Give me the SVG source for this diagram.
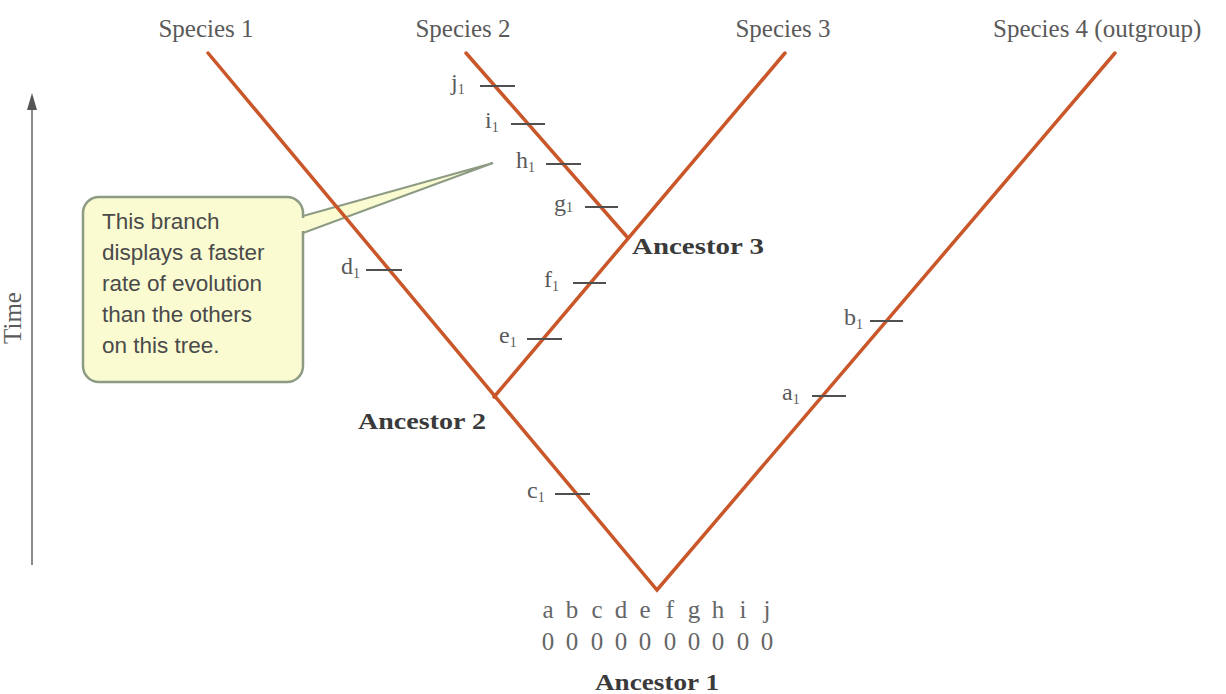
<svg xmlns="http://www.w3.org/2000/svg" width="1226" height="694" viewBox="0 0 1226 694">
<style>
.sp{font-family:"Liberation Serif",serif;font-size:25px;fill:#5a5a5a}
.lb{font-family:"Liberation Serif",serif;font-size:24px;fill:#5a5a5a}
.sub{font-size:14px}
.anc{font-family:"Liberation Serif",serif;font-size:23px;font-weight:bold;fill:#3a3a3a}
.row{font-family:"Liberation Serif",serif;font-size:25px;fill:#666;text-anchor:middle}
.br{stroke:#c9572a;stroke-width:3.5;fill:none;stroke-linecap:round}
.tk{stroke:#505050;stroke-width:2}
.call{font-family:"Liberation Sans",sans-serif;font-size:22.5px;fill:#4a4a4a}
</style>
<rect width="1226" height="694" fill="#fff"/>

<g id="time-axis">
<line x1="32" y1="565" x2="32" y2="100" stroke="#8a8a8a" stroke-width="2"/>
<path d="M27,110 L32,93 L37,110 Z" fill="#555"/>
<text class="sp" transform="translate(21,318) rotate(-90)" text-anchor="middle" fill="#777">Time</text>
</g>

<g id="species-labels">
<text class="sp" x="206" y="37" text-anchor="middle">Species 1</text>
<text class="sp" x="463" y="37" text-anchor="middle">Species 2</text>
<text class="sp" x="783" y="37" text-anchor="middle">Species 3</text>
<text class="sp" x="993" y="37">Species 4 (outgroup)</text>
</g>

<g id="callout">
<path d="M303,216 L493,163 L303,233" fill="#fbfbd2" stroke="#8d9b84" stroke-width="2"/>
<rect x="83" y="197" width="220" height="185" rx="16" fill="#fbfbd2" stroke="#8d9b84" stroke-width="2.5"/>
<rect x="300" y="218" width="5" height="13" fill="#fbfbd2"/>
<text class="call" x="102" y="229">This branch</text>
<text class="call" x="102" y="260">displays a faster</text>
<text class="call" x="102" y="291">rate of evolution</text>
<text class="call" x="102" y="322">than the others</text>
<text class="call" x="102" y="353">on this tree.</text>
</g>

<g id="connectors">
<path class="br" d="M208,53 L657,590 L1115,53"/>
<path class="br" d="M494,397 L785,53"/>
<path class="br" d="M628,238 L466,53"/>
</g>

<g id="ticks">
<line class="tk" x1="480" y1="86" x2="515" y2="86"/>
<line class="tk" x1="511" y1="124" x2="545" y2="124"/>
<line class="tk" x1="546" y1="164" x2="581" y2="164"/>
<line class="tk" x1="585" y1="207" x2="618" y2="207"/>
<line class="tk" x1="573" y1="283" x2="606" y2="283"/>
<line class="tk" x1="527" y1="339" x2="562" y2="339"/>
<line class="tk" x1="366" y1="270" x2="402" y2="270"/>
<line class="tk" x1="555" y1="494" x2="590" y2="494"/>
<line class="tk" x1="870" y1="321" x2="903" y2="321"/>
<line class="tk" x1="812" y1="396" x2="846" y2="396"/>
</g>

<g id="tick-labels">
<text class="lb" x="451" y="90">j<tspan class="sub" dy="4">1</tspan></text>
<text class="lb" x="485" y="128">i<tspan class="sub" dy="4">1</tspan></text>
<text class="lb" x="516" y="168">h<tspan class="sub" dy="4">1</tspan></text>
<text class="lb" x="554" y="211">g<tspan class="sub" dy="1">1</tspan></text>
<text class="lb" x="544" y="287">f<tspan class="sub" dy="4">1</tspan></text>
<text class="lb" x="499" y="343">e<tspan class="sub" dy="4">1</tspan></text>
<text class="lb" x="341" y="274">d<tspan class="sub" dy="4">1</tspan></text>
<text class="lb" x="527" y="498">c<tspan class="sub" dy="4">1</tspan></text>
<text class="lb" x="844" y="325">b<tspan class="sub" dy="4">1</tspan></text>
<text class="lb" x="782" y="400">a<tspan class="sub" dy="4">1</tspan></text>
</g>

<g id="ancestor-3"><text class="anc" x="632" y="254" textLength="132" lengthAdjust="spacingAndGlyphs">Ancestor 3</text></g>
<g id="ancestor-2"><text class="anc" x="358" y="429" textLength="128" lengthAdjust="spacingAndGlyphs">Ancestor 2</text></g>

<g id="ancestor-1">
<text class="row" y="618"><tspan x="548">a</tspan><tspan x="572">b</tspan><tspan x="597">c</tspan><tspan x="621">d</tspan><tspan x="645">e</tspan><tspan x="670">f</tspan><tspan x="694">g</tspan><tspan x="718">h</tspan><tspan x="743">i</tspan><tspan x="767">j</tspan></text>
<text class="row" y="650"><tspan x="548">0</tspan><tspan x="572">0</tspan><tspan x="597">0</tspan><tspan x="621">0</tspan><tspan x="645">0</tspan><tspan x="670">0</tspan><tspan x="694">0</tspan><tspan x="718">0</tspan><tspan x="743">0</tspan><tspan x="767">0</tspan></text>
<text class="anc" x="657" y="690" text-anchor="middle" textLength="124" lengthAdjust="spacingAndGlyphs">Ancestor 1</text>
</g>
</svg>
